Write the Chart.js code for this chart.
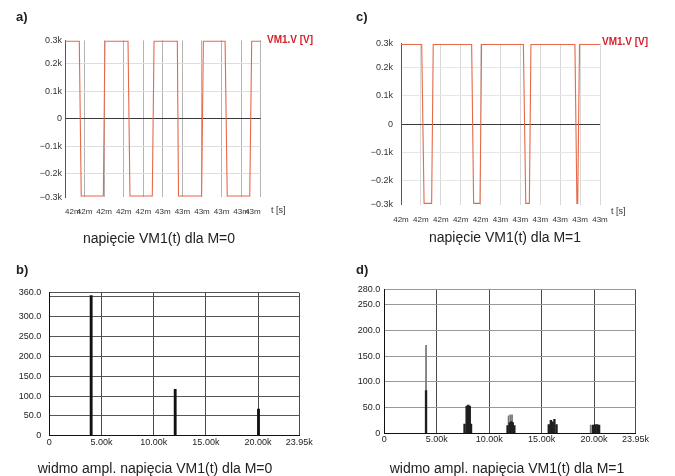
<!DOCTYPE html>
<html>
<head>
<meta charset="utf-8">
<script src="https://cdn.jsdelivr.net/npm/chart.js@4"></script>
<style>
  body { margin: 0; background: #fff; }
  #page { position: relative; width: 675px; height: 476px; overflow: hidden;
          font-family: 'Liberation Sans', Arial, sans-serif; color: #222; }
  #page canvas { position: absolute; left: 0; top: 0; }
  .t { position: absolute; white-space: nowrap; line-height: 1; }
  .lbl { font-weight: bold; font-size: 13px; color: #222; }
  .leg { font-weight: bold; font-size: 10px; color: #d6202b; }
  .unit { font-size: 9px; color: #333; }
  .cap { font-size: 14px; color: #222; transform: translateX(-50%); }
</style>
</head>
<body>
<div id="page">
  <canvas id="chartA" width="675" height="476"></canvas>
  <canvas id="chartB" width="675" height="476"></canvas>
  <canvas id="chartC" width="675" height="476"></canvas>
  <canvas id="chartD" width="675" height="476"></canvas>

  <div class="t lbl" style="left:16px;top:10px">a)</div>
  <div class="t lbl" style="left:356px;top:10px">c)</div>
  <div class="t lbl" style="left:16px;top:263px">b)</div>
  <div class="t lbl" style="left:356px;top:263px">d)</div>

  <div class="t leg" style="left:267px;top:35px">VM1.V [V]</div>
  <div class="t leg" style="left:602px;top:37px">VM1.V [V]</div>
  <div class="t unit" style="left:271px;top:206px">t [s]</div>
  <div class="t unit" style="left:611px;top:207px">t [s]</div>

  <div class="t cap" style="left:159px;top:231px">napięcie VM1(t) dla M=0</div>
  <div class="t cap" style="left:505px;top:230px">napięcie VM1(t) dla M=1</div>
  <div class="t cap" style="left:155px;top:461px">widmo ampl. napięcia VM1(t) dla M=0</div>
  <div class="t cap" style="left:507px;top:461px">widmo ampl. napięcia VM1(t) dla M=1</div>
</div>

<script>
// ===== dane: przebiegi czasowe (t w ms, napięcie w V) =====
const timeTicks = [42.0, 42.1, 42.2, 42.3, 42.4, 42.5, 42.6, 42.7, 42.8, 42.9, 43.0];
const timeTickLabels = ['42m', '42m', '42m', '42m', '42m', '43m', '43m', '43m', '43m', '43m', '43m'];
const voltTicks = [-285, -200, -100, 0, 100, 200, 285];
const voltTickLabels = ['\u22120.3k', '\u22120.2k', '\u22120.1k', '0', '0.1k', '0.2k', '0.3k'];

// a) M=0
const timeA = [42.0, 42.073, 42.083, 42.196, 42.204, 42.322, 42.332, 42.446, 42.455,
               42.574, 42.580, 42.698, 42.707, 42.818, 42.829, 42.944, 42.954, 43.0];
const voltA = [282, 282, -280, -280, 282, 282, -280, -280, 282,
               282, -280, -280, 282, 282, -280, -280, 282, 282];

// c) M=1
const timeC = [42.0, 42.104, 42.116, 42.154, 42.162, 42.355, 42.365, 42.397, 42.405,
               42.615, 42.627, 42.645, 42.653, 42.874, 42.884, 42.888, 42.897, 43.0];
const voltC = [282, 282, -280, -280, 282, 282, -280, -280, 282,
               282, -280, -280, 282, 282, -280, -280, 282, 282];

// ===== dane: widma (f w kHz) =====
const freqTicks = [0, 5, 10, 15, 20, 23.95];
const freqTickLabels = ['0', '5.00k', '10.00k', '15.00k', '20.00k', '23.95k'];

// b) M=0
const ampTicksB = [0, 50, 100, 150, 200, 250, 300, 350, 360];
const ampTickLabelsB = ['0', '50.0', '100.0', '150.0', '200.0', '250.0', '300.0', '', '360.0'];
const freqB = [4.01, 12.06, 20.04];
const ampB = [353, 117, 67];

// d) M=1
const ampTicksD = [0, 50, 100, 150, 200, 250, 280];
const ampTickLabelsD = ['0', '50.0', '100.0', '150.0', '200.0', '250.0', '280.0'];
const freqDDark = [3.98,
                   7.65, 7.85, 8.00, 8.15, 8.27,
                   11.75, 11.95, 12.10, 12.25, 12.40,
                   15.68, 15.88, 16.05, 16.22, 16.42,
                   19.90, 20.10, 20.30, 20.48];
const ampDDark = [83,
                  18, 53, 55, 53, 18,
                  15, 21, 23, 21, 15,
                  17, 25, 22, 27, 17,
                  16, 17, 17, 16];
const freqDGrey = [3.98, 11.85, 12.02, 12.18, 15.97, 19.68];
const ampDGrey = [171, 34, 36, 36, 24, 16];

// ===== wygląd =====
const W = 675, H = 476;
const FONT = "'Liberation Sans', Arial, sans-serif";
const WAVE = '#e5694a';

function layoutFor(area, yW, xH) {
  return {
    autoPadding: false,
    padding: { left: area.left - yW, top: area.top, right: W - area.right, bottom: H - area.bottom - xH }
  };
}

function fixed(values, labels) {
  return {
    afterBuildTicks: s => { s.ticks = values.map(v => ({ value: v })); },
    callback: (v, i) => labels[i]
  };
}

function points(xs, ys) {
  return xs.map((x, i) => ({ x, y: ys[i] }));
}

function waveChart(id, area, times, volts, yPad, xAlign, vGrid, hGrid) {
  const xt = fixed(timeTicks, timeTickLabels);
  const yt = fixed(voltTicks, voltTickLabels);
  new Chart(document.getElementById(id), {
    type: 'line',
    data: { datasets: [{ data: points(times, volts), borderColor: WAVE, borderWidth: 1.1,
                         pointRadius: 0, tension: 0, clip: false }] },
    options: {
      responsive: false, animation: false, events: [],
      layout: layoutFor(area, 40, 24),
      plugins: { legend: { display: false }, tooltip: { enabled: false } },
      scales: {
        x: {
          type: 'linear', min: 42, max: 43,
          afterBuildTicks: xt.afterBuildTicks,
          afterFit: s => { s.height = 24; },
          ticks: { autoSkip: false, maxRotation: 0, align: xAlign, padding: 10, color: '#333',
                   font: { family: FONT, size: 8 }, callback: xt.callback },
          grid: { color: vGrid, drawTicks: false },
          border: { display: false }
        },
        y: {
          min: -285, max: 285,
          afterBuildTicks: yt.afterBuildTicks,
          afterFit: s => { s.width = 40; },
          ticks: { padding: yPad, color: '#333', font: { family: FONT, size: 9 }, callback: yt.callback },
          grid: {
            drawTicks: false,
            color: c => c.tick.value === 0 ? '#3a3a3a' : (Math.abs(c.tick.value) > 250 ? 'rgba(0,0,0,0)' : hGrid)
          },
          border: { color: '#555' }
        }
      }
    }
  });
}

function spectrumChart(id, area, datasets, yTicks, yLabels, yMax, yPad, hGrid) {
  const xt = fixed(freqTicks, freqTickLabels);
  const yt = fixed(yTicks, yLabels);
  new Chart(document.getElementById(id), {
    type: 'bar',
    data: { datasets },
    options: {
      responsive: false, animation: false, events: [],
      layout: layoutFor(area, 40, 20),
      plugins: { legend: { display: false }, tooltip: { enabled: false } },
      scales: {
        x: {
          type: 'linear', min: 0, max: 23.95, offset: false,
          afterBuildTicks: xt.afterBuildTicks,
          afterFit: s => { s.height = 20; },
          ticks: { autoSkip: false, maxRotation: 0, padding: 1, color: '#222',
                   font: { family: FONT, size: 9 }, callback: xt.callback },
          grid: { offset: false, color: '#4a4a4a', drawTicks: false },
          border: { color: '#111' }
        },
        y: {
          min: 0, max: yMax,
          afterBuildTicks: yt.afterBuildTicks,
          afterFit: s => { s.width = 40; },
          ticks: { padding: yPad, color: '#222', font: { family: FONT, size: 9 }, callback: yt.callback },
          grid: { color: hGrid, drawTicks: false },
          border: { color: '#111' }
        }
      }
    }
  });
}

// a) i c) przebiegi
waveChart('chartA', { left: 65, right: 260.7, top: 40.4, bottom: 197.4 }, timeA, voltA, 3, 'inner', '#b3b3b3', '#dedede');
waveChart('chartC', { left: 401, right: 600, top: 43.6, bottom: 204.8 }, timeC, voltC, 8, 'center', '#d8d8d8', '#e6e6e6');

// b) widmo M=0
spectrumChart('chartB', { left: 49.3, right: 299.3, top: 292.9, bottom: 435.7 },
  [{ data: points(freqB, ampB), backgroundColor: '#111', barThickness: 2.2, grouped: false }],
  ampTicksB, ampTickLabelsB, 360, 8, '#555');

// d) widmo M=1
spectrumChart('chartD', { left: 384.3, right: 635.5, top: 289.3, bottom: 433.3 },
  [
    { data: points(freqDDark, ampDDark), backgroundColor: '#1e1e1e', barThickness: 1.7, grouped: false },
    { data: points(freqDGrey, ampDGrey), backgroundColor: '#7a7a7a', barThickness: 1.1, grouped: false }
  ],
  ampTicksD, ampTickLabelsD, 280, 4, '#999');
</script>
</body>
</html>
